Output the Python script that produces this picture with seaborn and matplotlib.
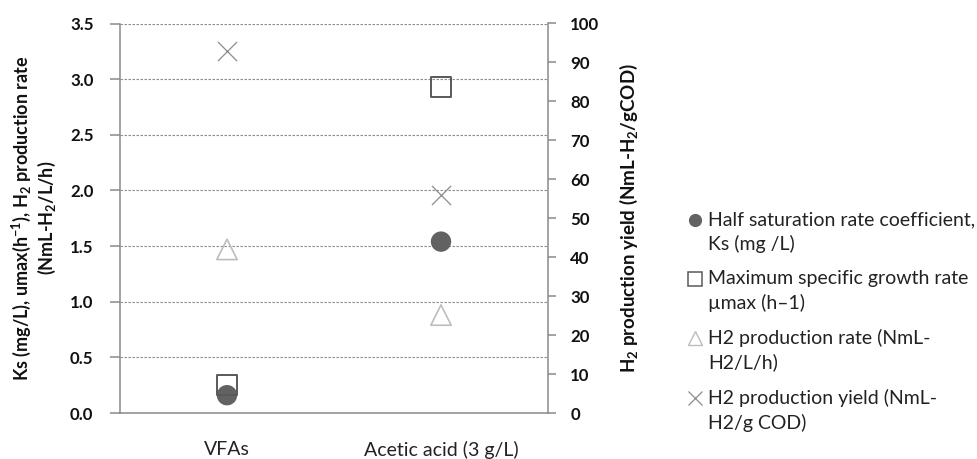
import numpy as np
import pandas as pd
import matplotlib
matplotlib.use("Agg")
import matplotlib.pyplot as plt
import seaborn as sns
from matplotlib.lines import Line2D
from matplotlib.legend_handler import HandlerLine2D
from matplotlib.ticker import FixedLocator

# ---- data ----
categories = ["VFAs", "Acetic acid (3 g/L)"]
ks_values = [0.16, 1.54]          # Half saturation rate coefficient (left axis)
umax_values = [0.25, 2.93]        # Maximum specific growth rate (left axis)
h2_rate_values = [1.47, 0.88]     # H2 production rate (left axis)
h2_yield_values = [93, 56]        # H2 production yield (right axis)
left_ticks = [0.0, 0.5, 1.0, 1.5, 2.0, 2.5, 3.0, 3.5]
right_ticks = [0, 10, 20, 30, 40, 50, 60, 70, 80, 90, 100]
legend_labels = [
    "Half saturation rate coefficient,\nKs (mg /L)",
    "Maximum specific growth rate\n\u00b5max (h\u20131)",
    "H2 production rate (NmL-\nH2/L/h)",
    "H2 production yield (NmL-\nH2/g COD)",
]

sns.set_theme(style="white")
plt.rcParams["font.family"] = ["Lato", "DejaVu Sans"]
plt.rcParams["mathtext.fontset"] = "custom"
plt.rcParams["mathtext.rm"] = "Lato:bold"
plt.rcParams["mathtext.it"] = "Lato:bold:italic"
plt.rcParams["mathtext.bf"] = "Lato:bold"
plt.rcParams["mathtext.default"] = "rm"

df = pd.DataFrame({
    "category": categories,
    "ks": ks_values,
    "umax": umax_values,
    "rate": h2_rate_values,
    "yield": h2_yield_values,
})

W, H = 978, 459
fig = plt.figure(figsize=(W / 100, H / 100), dpi=100)
ax = fig.add_axes([120 / W, 1 - 413 / H, 428 / W, 389.5 / H])
ax2 = ax.twinx()

c_ks = "#626262"
c_umax = "#595959"
c_rate = "#bdbdbd"
c_yield = "#8c8c8c"
spine_c = "#8a8a8a"
txt_c = "#111111"

sns.scatterplot(data=df, x="category", y="ks", marker="o", s=215, color=c_ks,
                edgecolor="none", linewidth=0, ax=ax, zorder=3, legend=False)
sns.scatterplot(data=df, x="category", y="umax", marker="s", s=215, color=c_umax,
                facecolor="none", edgecolor=c_umax, linewidth=1.4, ax=ax, zorder=4, legend=False)
sns.scatterplot(data=df, x="category", y="rate", marker="^", s=215, color=c_rate,
                facecolor="none", edgecolor=c_rate, linewidth=1.2, ax=ax, zorder=4, legend=False)
sns.scatterplot(data=df, x="category", y="yield", marker="x", s=190, color=c_yield,
                linewidth=0.9, ax=ax2, zorder=4, legend=False)

ax.set_xlim(-0.5, 1.5)
ax2.set_xlim(-0.5, 1.5)
ax.set_ylim(0, 3.5)
ax2.set_ylim(0, 100)

ax.yaxis.set_major_locator(FixedLocator(left_ticks))
ax.set_yticklabels([f"{t:.1f}" for t in left_ticks])
ax2.yaxis.set_major_locator(FixedLocator(right_ticks))
ax2.set_yticklabels([str(t) for t in right_ticks])

ax.yaxis.grid(True, linestyle=(0, (2.2, 1.4)), color="#8c8c8c", linewidth=0.8)
ax.xaxis.grid(False)
ax2.grid(False)

for a in (ax, ax2):
    for s in a.spines.values():
        s.set_visible(False)
ax.spines["left"].set_visible(True)
ax.spines["bottom"].set_visible(True)
ax2.spines["right"].set_visible(True)
for s in (ax.spines["left"], ax.spines["bottom"], ax2.spines["right"]):
    s.set_color(spine_c)
    s.set_linewidth(1.1)

ax.tick_params(axis="y", direction="out", length=7, width=1.1, color=spine_c,
               labelsize=12.2, pad=12, labelcolor=txt_c)
ax2.tick_params(axis="y", direction="out", length=6, width=1.1, color=spine_c,
                labelsize=12.2, pad=10, labelcolor=txt_c)
for lab in ax.get_yticklabels() + ax2.get_yticklabels():
    lab.set_fontweight("bold")

ax.set_xticks([0, 1])
ax.set_xticklabels(categories)
ax.set_xticks([-0.5, 0.5, 1.5], minor=True)
ax.tick_params(axis="x", which="major", length=0, labelsize=14, pad=20, labelcolor="#222222")
ax.tick_params(axis="x", which="minor", length=6, width=1.1, color=spine_c, direction="out")

ax.set_xlabel("")
ax.set_ylabel("Ks (mg/L), umax(h$^{-1}$), H$_{2}$ production rate\n(NmL-H$_{2}$/L/h)",
              fontsize=13.0, fontweight="bold", color=txt_c, linespacing=1.18)
ax.yaxis.set_label_coords(-0.145, 0.5)
ax2.set_ylabel("H$_{2}$ production yield (NmL-H$_{2}$/gCOD)",
               fontsize=13.5, fontweight="bold", color=txt_c)
ax2.yaxis.set_label_coords(1.163, 0.5)


class FirstLineHandler(HandlerLine2D):
    """Place the legend marker beside the first line of a two-line label."""
    def __init__(self, shift, **kw):
        super().__init__(**kw)
        self.shift = shift

    def create_artists(self, legend, orig_handle, xdescent, ydescent, width, height,
                       fontsize, trans):
        arts = super().create_artists(legend, orig_handle, xdescent, ydescent, width,
                                      height, fontsize, trans)
        for a in arts:
            a.set_ydata(np.asarray(a.get_ydata(), dtype=float) + self.shift)
        return arts


handles = [
    Line2D([], [], linestyle="none", marker="o", markersize=9.5, color=c_ks, markeredgewidth=0),
    Line2D([], [], linestyle="none", marker="s", markersize=9.5, markerfacecolor="none",
           markeredgecolor=c_umax, markeredgewidth=1.1),
    Line2D([], [], linestyle="none", marker="^", markersize=9.5, markerfacecolor="none",
           markeredgecolor=c_rate, markeredgewidth=1.0),
    Line2D([], [], linestyle="none", marker="x", markersize=9.5, color=c_yield, markeredgewidth=0.9),
]
hmap = {h: FirstLineHandler(9.0) for h in handles}
leg = fig.legend(handles, legend_labels, loc="upper left", bbox_to_anchor=(685 / W, 1 - 211 / H),
                 frameon=False, fontsize=14, handlelength=1.0, handletextpad=0.2,
                 labelspacing=0.87, borderpad=0, borderaxespad=0, labelcolor="#222222",
                 handler_map=hmap)
for t in leg.get_texts():
    t.set_linespacing(1.46)

fig.savefig("out.png", dpi=100)
